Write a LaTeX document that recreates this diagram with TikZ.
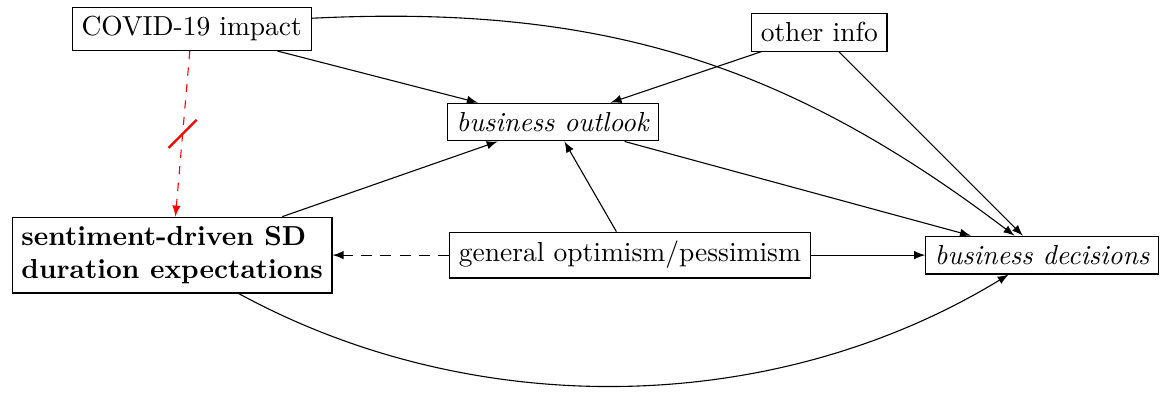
\documentclass[tikz,border=0pt]{standalone}
\usepackage{tikz}

\begin{document}
\begin{tikzpicture}[every path/.style={>=latex},every node/.style={draw,rectangle}]
\useasboundingbox (0,0) rectangle (14.85,5.11);
\node            (covid)   at (2.45,4.74)  { COVID-19 impact };
\node            (other)   at (10.47,4.70) { other info };
\node            (outlook) at (7.07,3.55)  { \textit{business outlook} };
\node[align=left,font=\bfseries] (sent) at (2.20,1.85) { sentiment-driven SD\\duration expectations };
\node            (gen)     at (8.05,1.85)  { general optimism/pessimism };
\node            (dec)     at (13.32,1.85) { \textit{business decisions} };
\draw[->]                     (covid)   edge (outlook);
\draw[->, bend left=20]       (covid)   edge (dec);
\draw[->]                     (other)   edge (outlook);
\draw[->]                     (other)   edge (dec);
\draw[->]                     (outlook) edge (dec);
\draw[->]                     (gen)     edge (outlook);
\draw[->]                     (gen)     edge (dec);
\draw[->, dash pattern=on 4pt off 3pt] (gen) edge (sent);
\draw[->]                     (sent)    edge (outlook);
\draw[->, bend right, looseness=0.9] (sent) edge (dec);
\draw[->, red, dashed] (covid) -- coordinate[midway] (cut) (sent);
\draw[red, thick] (cut) ++(-0.18,-0.18) -- ++(0.36,0.36);
\end{tikzpicture}
\end{document}
